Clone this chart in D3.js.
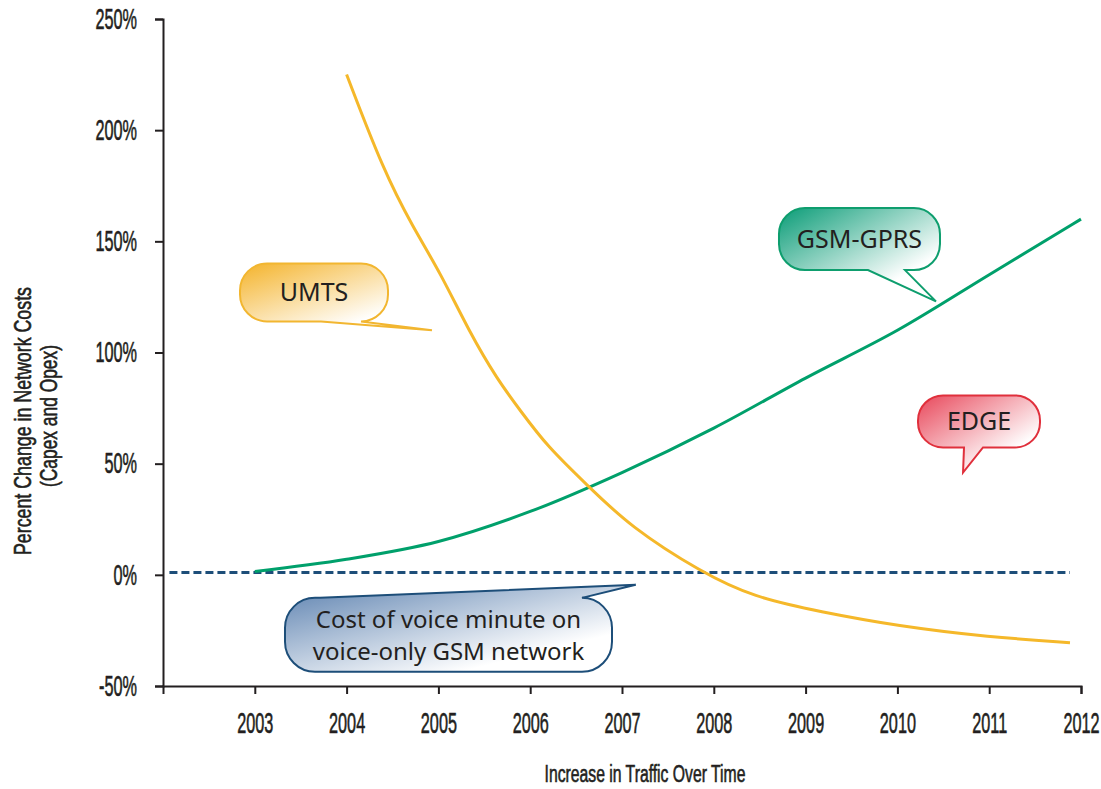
<!DOCTYPE html>
<html>
<head>
<meta charset="utf-8">
<script src="https://cdn.jsdelivr.net/npm/d3@7"></script>
<style>
  body { margin: 0; background: #fff; }
  .axis text, .title { font-family: "Liberation Sans", Arial, sans-serif; fill: #231f20; stroke: #231f20; stroke-width: 0.6; }
  .bubble text { font-family: "Noto Sans", "DejaVu Sans", sans-serif; fill: #231f20; }
</style>
</head>
<body>
<div id="chart"></div>
<script>
// Data
const years = [2003, 2004, 2005, 2006, 2007, 2008, 2009, 2010, 2011, 2012];
const yTicks = [-50, 0, 50, 100, 150, 200, 250];

const umtsYears = [2004, 2004.4, 2004.72, 2005.02, 2005.34, 2005.64, 2005.89, 2006.19, 2006.63, 2007.09, 2007.87, 2008.43, 2009.16, 2010, 2011, 2011.88];
const umtsValues = [225, 182, 156.5, 136, 109, 88, 74, 57.5, 40, 21.6, 1, -10, -16.6, -23, -28, -30.5];

const gsmYears = [2003, 2004, 2005, 2006, 2007, 2008, 2009, 2010, 2011, 2012];
const gsmValues = [1.5, 7, 15, 28.5, 46, 66, 88.5, 110, 135, 160];

const voiceYears = [2002.07, 2011.88];
const voiceValues = [1, 1];

// Dimensions and SVG setup
const width = 1101, height = 789;
const margin = { top: 19, right: 20, bottom: 103, left: 163 };
const plotWidth = 1081 - margin.left;
const plotHeight = height - margin.bottom - margin.top;

const svg = d3.select("#chart")
    .append("svg")
    .attr("width", width)
    .attr("height", height);

const g = svg.append("g")
    .attr("transform", `translate(${margin.left},${margin.top})`);

// Scales
const x = d3.scaleLinear().domain([2002, 2012]).range([0, plotWidth]);
const y = d3.scaleLinear().domain([-50, 250]).range([plotHeight, 0]);

// squeeze text horizontally to get the condensed look
function condense(sel, s) {
    sel.each(function() {
        const t = d3.select(this);
        const tx = +t.attr("x") || 0;
        t.attr("x", 0).attr("transform", `translate(${tx},0) scale(${s},1)`);
    });
}

// Axes
const xAxis = g.append("g")
    .attr("class", "axis")
    .attr("transform", `translate(0,${plotHeight})`)
    .call(d3.axisBottom(x).tickValues(years).tickFormat(d3.format("d")).tickSize(8).tickSizeOuter(8).tickPadding(18));

const yAxis = g.append("g")
    .attr("class", "axis")
    .call(d3.axisLeft(y).tickValues(yTicks).tickFormat(d => d + "%").tickSize(8).tickSizeOuter(8).tickPadding(18));

g.selectAll(".axis path, .axis line").attr("stroke", "#231f20").attr("stroke-width", 2);
g.selectAll(".axis text").attr("font-size", 29).call(condense, 0.56);

// Axis titles
svg.append("text")
    .attr("class", "title")
    .attr("text-anchor", "middle")
    .attr("x", 645)
    .attr("y", 782)
    .attr("font-size", 23)
    .attr("textLength", 201)
    .attr("lengthAdjust", "spacingAndGlyphs")
    .text("Increase in Traffic Over Time");

const yTitle = svg.append("text")
    .attr("class", "title")
    .attr("text-anchor", "middle")
    .attr("transform", "translate(31,421) rotate(-90)")
    .attr("font-size", 24);
yTitle.append("tspan").attr("x", 0).attr("y", 0)
    .attr("textLength", 268).attr("lengthAdjust", "spacingAndGlyphs")
    .text("Percent Change in Network Costs");
yTitle.append("tspan").attr("x", 5).attr("y", 26)
    .attr("textLength", 142).attr("lengthAdjust", "spacingAndGlyphs")
    .text("(Capex and Opex)");

// Lines
const line = d3.line().x(d => x(d[0])).y(d => y(d[1])).curve(d3.curveMonotoneX);
const smoothLine = d3.line().x(d => x(d[0])).y(d => y(d[1])).curve(d3.curveBasis);

g.append("path")
    .datum(voiceYears.map((v, i) => [v, voiceValues[i]]))
    .attr("fill", "none")
    .attr("stroke", "#1d4e79")
    .attr("stroke-width", 3)
    .attr("stroke-dasharray", "8,4")
    .attr("d", line);

g.append("path")
    .datum(gsmYears.map((v, i) => [v, gsmValues[i]]))
    .attr("fill", "none")
    .attr("stroke", "#00a06b")
    .attr("stroke-width", 3)
    .attr("d", line);

g.append("path")
    .datum(umtsYears.map((v, i) => [v, umtsValues[i]]))
    .attr("fill", "none")
    .attr("stroke", "#f5b82a")
    .attr("stroke-width", 3)
    .attr("d", smoothLine);

// Callouts: centre and tip in data units, size in pixels
const callouts = [
    { id: "umts", lines: ["UMTS"], cx: 2003.645, cy: 127, w: 148, h: 58, r: 27, size: 25, color: "#f4b32a", stroke: "#f2b630",
      tail: { edge: "bottom", a: 0, b: -40, tip: [2004.93, 110] } },
    { id: "gsm", lines: ["GSM-GPRS"], cx: 2009.587, cy: 151, w: 161, h: 62, r: 26, size: 25, color: "#0a9c77", stroke: "#0e9e6e",
      tail: { edge: "bottom", a: -9, b: -46, tip: [2010.42, 123] } },
    { id: "edge", lines: ["EDGE"], cx: 2010.889, cy: 69, w: 122, h: 52, r: 25, size: 25, color: "#e8475a", stroke: "#e0303c",
      tail: { edge: "bottom", a: -32, b: -51, tip: [2010.715, 46] } },
    { id: "voice", lines: ["Cost of voice minute on", "voice-only GSM network"], cx: 2005.11, cy: -27, w: 327, h: 74, r: 30, size: 24, color: "#5d82b0", stroke: "#1d4e79",
      tail: { edge: "top", a: -262, b: 0, tip: [2007.15, -4.5] } }
];

// Rounded box with a pointer; tail a/b are offsets from the right inner corner of the edge
function bubblePath(x0, y0, w, h, r, tail, tip) {
    const x1 = x0 + w, y1 = y0 + h;
    const p = d3.path();
    p.moveTo(x0 + r, y0);
    if (tail.edge === "top") {
        p.lineTo(x1 - r + tail.a, y0);
        p.lineTo(tip[0], tip[1]);
        p.lineTo(x1 - r + tail.b, y0);
    }
    p.lineTo(x1 - r, y0);
    p.arcTo(x1, y0, x1, y0 + r, r);
    p.lineTo(x1, y1 - r);
    p.arcTo(x1, y1, x1 - r, y1, r);
    if (tail.edge === "bottom") {
        p.lineTo(x1 - r + tail.a, y1);
        p.lineTo(tip[0], tip[1]);
        p.lineTo(x1 - r + tail.b, y1);
    }
    p.lineTo(x0 + r, y1);
    p.arcTo(x0, y1, x0, y1 - r, r);
    p.lineTo(x0, y0 + r);
    p.arcTo(x0, y0, x0 + r, y0, r);
    p.closePath();
    return p.toString();
}

const defs = svg.append("defs");
callouts.forEach(c => {
    const grad = defs.append("linearGradient")
        .attr("id", "grad-" + c.id)
        .attr("x1", 0).attr("y1", 0).attr("x2", 1).attr("y2", 1);
    grad.append("stop").attr("offset", 0).attr("stop-color", c.color);
    grad.append("stop").attr("offset", 0.75).attr("stop-color", "#ffffff");
});

const bubbles = g.selectAll(".bubble")
    .data(callouts)
    .enter()
    .append("g")
    .attr("class", "bubble");

bubbles.append("path")
    .attr("d", c => {
        const bx = x(c.cx) - c.w / 2, by = y(c.cy) - c.h / 2;
        return bubblePath(bx, by, c.w, c.h, c.r, c.tail, [x(c.tail.tip[0]), y(c.tail.tip[1])]);
    })
    .attr("fill", c => `url(#grad-${c.id})`)
    .attr("stroke", c => c.stroke)
    .attr("stroke-width", 2);

bubbles.each(function(c) {
    const t = d3.select(this).append("text")
        .attr("text-anchor", "middle")
        .attr("font-size", c.size);
    const n = c.lines.length;
    c.lines.forEach((s, i) => {
        t.append("tspan")
            .attr("x", x(c.cx))
            .attr("y", y(c.cy) + (i - (n - 1) / 2) * 32 + 9)
            .text(s);
    });
});
</script>
</body>
</html>
